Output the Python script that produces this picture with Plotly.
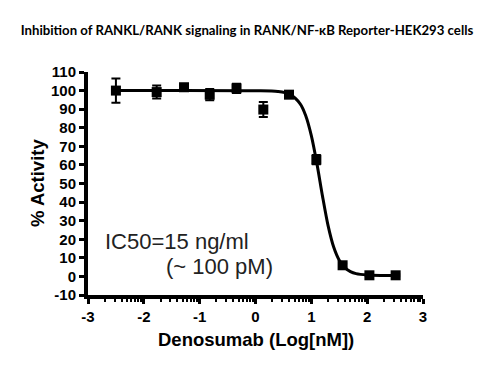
import math
import plotly.graph_objects as go

# measured data points (log nM, % activity, SEM)
dose_log = [-2.50, -1.77, -1.28, -0.82, -0.34, 0.14, 0.60, 1.09, 1.56, 2.04, 2.51]
activity = [100.0, 99.2, 101.8, 97.8, 101.2, 89.8, 97.8, 62.8, 6.0, 0.6, 0.6]
sem = [6.5, 3.5, 1.0, 3.0, 2.5, 4.0, 0.8, 2.5, 1.0, 0.5, 0.5]

# fitted curve
curve_x = [-2.5, 0.0, 0.4, 0.6, 0.8, 0.9, 1.0, 1.1, 1.2, 1.3, 1.4, 1.5, 1.6, 1.7, 1.8, 2.0, 2.5]
curve_y = [100.0, 99.9, 99.5, 98.2, 92.9, 86.5, 75.8, 60.7, 43.2, 27.3, 15.8, 8.7, 4.7, 2.6, 1.5, 0.8, 0.5]

x_ticks = [-3, -2, -1, 0, 1, 2, 3]
y_ticks = [-10, 0, 10, 20, 30, 40, 50, 60, 70, 80, 90, 100, 110]

minor_vals = [d + math.log10(k) for d in range(-3, 3) for k in range(2, 10)]

fig = go.Figure()
fig.add_trace(go.Scatter(
    x=curve_x, y=curve_y, mode="lines",
    line=dict(color="black", width=3, shape="spline", smoothing=0.8),
    hoverinfo="skip", showlegend=False))
fig.add_trace(go.Scatter(
    x=dose_log, y=activity, mode="markers",
    marker=dict(symbol="square", size=10, color="black"),
    error_y=dict(type="data", array=sem, visible=True, color="black", thickness=2, width=4.5),
    showlegend=False))

tickfont = dict(family="Liberation Sans, Arial, sans-serif", size=15, color="black", weight=700)

fig.update_layout(
    width=491, height=381,
    margin=dict(l=88, r=68, t=72, b=86),
    paper_bgcolor="white", plot_bgcolor="white",
    title=dict(
        text="Inhibition of RANKL/RANK signaling in RANK/NF-κB Reporter-HEK293 cells",
        x=247 / 491, xanchor="center", y=1 - 30 / 381, yanchor="middle",
        font=dict(family="Lato, Open Sans, sans-serif", size=13.2, color="black", weight=700)),
    xaxis=dict(
        range=[-3, 3], tickvals=x_ticks, ticktext=[str(v) for v in x_ticks],
        showline=True, linecolor="black", linewidth=4,
        ticks="outside", ticklen=5, tickwidth=3, tickcolor="black",
        tickfont=tickfont, showgrid=False, zeroline=False,
        minor=dict(tickmode="array", tickvals=minor_vals, ticks="outside",
                   ticklen=3, tickwidth=2, tickcolor="black", showgrid=False)),
    yaxis=dict(
        range=[-10, 110], tickvals=y_ticks, ticktext=[str(v) for v in y_ticks],
        showline=True, linecolor="black", linewidth=4,
        ticks="outside", ticklen=5, tickwidth=3, tickcolor="black",
        tickfont=tickfont, showgrid=False, zeroline=False),
    annotations=[
        dict(text="IC50=15 ng/ml", x=-1.40, y=19, xref="x", yref="y",
             xanchor="center", yanchor="middle", showarrow=False,
             font=dict(family="Liberation Sans, Arial, sans-serif", size=22, color="#222222")),
        dict(text="(~ 100 pM)", x=-0.64, y=5.5, xref="x", yref="y",
             xanchor="center", yanchor="middle", showarrow=False,
             font=dict(family="Liberation Sans, Arial, sans-serif", size=22, color="#222222")),
        dict(text="Denosumab (Log[nM])", x=(255.5 - 88) / 335, y=(295 - 339) / 223,
             xref="paper", yref="paper", xanchor="center", yanchor="middle", showarrow=False,
             font=dict(family="Liberation Sans, Arial, sans-serif", size=18.5, color="black", weight=700)),
        dict(text="% Activity", x=(37 - 88) / 335, y=(295 - 183) / 223, textangle=-90,
             xref="paper", yref="paper", xanchor="center", yanchor="middle", showarrow=False,
             font=dict(family="Liberation Sans, Arial, sans-serif", size=18.5, color="black", weight=700)),
    ],
)

fig.write_html("out.html", config={"displayModeBar": False},
               post_script="document.body.style.margin='0';")
